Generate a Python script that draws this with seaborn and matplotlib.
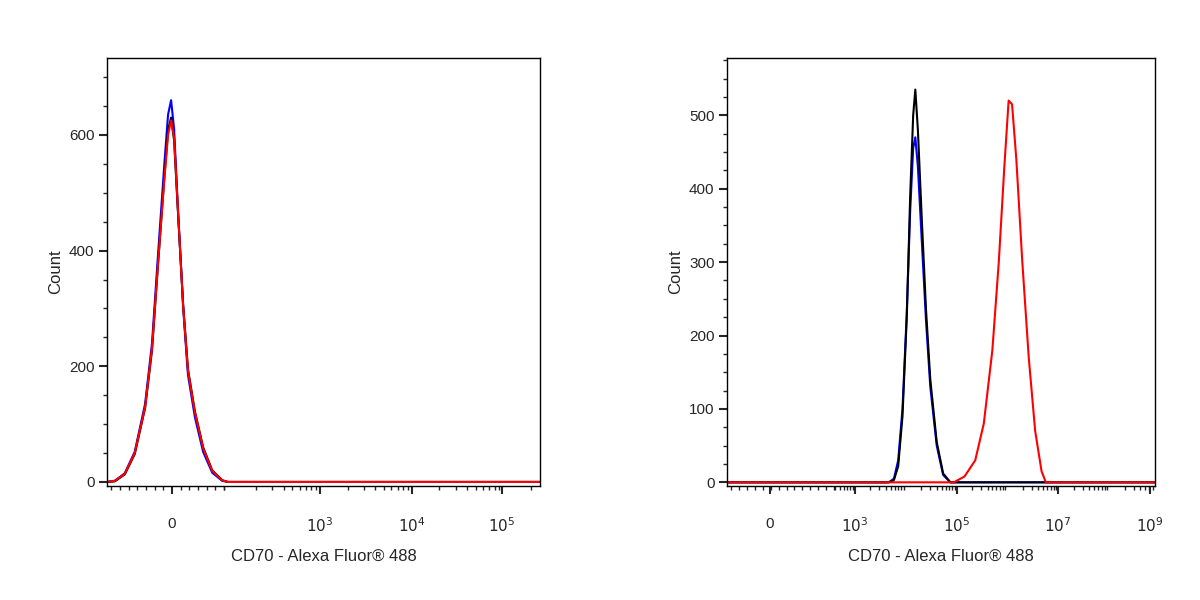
import numpy as np
import pandas as pd
import seaborn as sns
from matplotlib import pyplot as plt

# x positions are in display channels (0-1000) of the biexponential axis
left_x = [0, 18, 41, 64, 88, 104, 118, 132, 141, 148, 155, 164, 176, 187, 203, 222, 243, 266, 279, 1000]
left_blue = [0, 2, 15, 52, 135, 240, 395, 545, 635, 660, 610, 470, 300, 185, 112, 52, 16, 2, 0, 0]
left_black = [0, 1, 13, 48, 128, 228, 378, 522, 608, 630, 590, 465, 305, 195, 122, 60, 20, 3, 0, 0]
left_red = [0, 2, 14, 50, 130, 232, 380, 520, 600, 625, 595, 468, 302, 192, 120, 58, 19, 3, 0, 0]

right_x_neg = [0, 378, 390, 400, 410, 420, 428, 435, 440, 446, 455, 465, 475, 490, 505, 522, 1000]
right_blue = [0, 0, 5, 30, 100, 230, 370, 455, 470, 430, 330, 220, 130, 50, 10, 0, 0]
right_black = [0, 0, 3, 22, 90, 225, 390, 500, 535, 480, 360, 235, 140, 55, 12, 0, 0]

right_x_pos = [0, 530, 555, 580, 600, 620, 635, 648, 658, 666, 676, 690, 705, 720, 735, 745, 1000]
right_red = [0, 0, 8, 30, 80, 180, 300, 430, 520, 515, 440, 300, 170, 70, 15, 0, 0]

left_ticks = [150, 492, 704, 912]
left_labels = ['0', '$10^{3}$', '$10^{4}$', '$10^{5}$']
right_ticks = [100, 299, 537, 773, 988]
right_labels = ['0', '$10^{3}$', '$10^{5}$', '$10^{7}$', '$10^{9}$']

sns.set_style('white')
plt.rcParams['font.family'] = ['Liberation Sans', 'DejaVu Sans']

fig = plt.figure(figsize=(12, 6), dpi=100)
ax1 = fig.add_axes([107 / 1200, 114 / 600, 433 / 1200, 428 / 600])
ax2 = fig.add_axes([727 / 1200, 114 / 600, 428 / 1200, 428 / 600])

df_l = pd.DataFrame({'x': left_x, 'blue': left_blue, 'black': left_black, 'red': left_red})
for c in ['blue', 'black', 'red']:
    sns.lineplot(data=df_l, x='x', y=c, color=c, lw=1.5, ax=ax1)

df_n = pd.DataFrame({'x': right_x_neg, 'blue': right_blue, 'black': right_black})
sns.lineplot(data=df_n, x='x', y='blue', color='blue', lw=1.5, ax=ax2)
sns.lineplot(data=df_n, x='x', y='black', color='black', lw=1.5, ax=ax2)
df_p = pd.DataFrame({'x': right_x_pos, 'red': right_red})
sns.lineplot(data=df_p, x='x', y='red', color='red', lw=1.5, ax=ax2)


def minor_positions(ticks, first_dec, step):
    # log-spaced minor ticks between labelled decades
    base, width = ticks[1], (ticks[2] - ticks[1]) / step
    out = []
    for k in range(-2, 12):
        for m in range(2, 10):
            p = base + (k + np.log10(m)) * width
            if first_dec < p < 1000:
                out.append(p)
    return out


for ax, ticks, labels, ylim, ymaj, step, first in [
        (ax1, left_ticks, left_labels, (-7, 733), [0, 200, 400, 600], 1, 270),
        (ax2, right_ticks, right_labels, (-5, 578), [0, 100, 200, 300, 400, 500], 2, 250)]:
    ax.set_xlim(0, 1000)
    ax.set_ylim(*ylim)
    ax.set_xticks(ticks)
    ax.set_xticklabels(labels)
    lin = list(np.linspace(10, first, 14))
    ax.set_xticks(lin + minor_positions(ticks, first, step), minor=True)
    ax.set_yticks(ymaj)
    step_y = ymaj[1] - ymaj[0]
    ax.set_yticks([v + step_y * j / 4 for v in ymaj for j in (1, 2, 3)
                   if v + step_y * j / 4 < ylim[1]], minor=True)
    ax.tick_params(axis='both', which='major', direction='out', length=6, width=1.5,
                   labelsize=11, bottom=True, left=True, pad=16)
    ax.tick_params(axis='y', which='major', pad=3)
    ax.tick_params(axis='both', which='minor', direction='out', length=3, width=1, bottom=True, left=True)
    for s in ax.spines.values():
        s.set_color('black')
        s.set_linewidth(1)
    ax.set_xlabel('CD70 - Alexa Fluor® 488', fontsize=12, labelpad=10)
    ax.set_ylabel('Count', fontsize=12)

fig.savefig('out.png', dpi=100)
